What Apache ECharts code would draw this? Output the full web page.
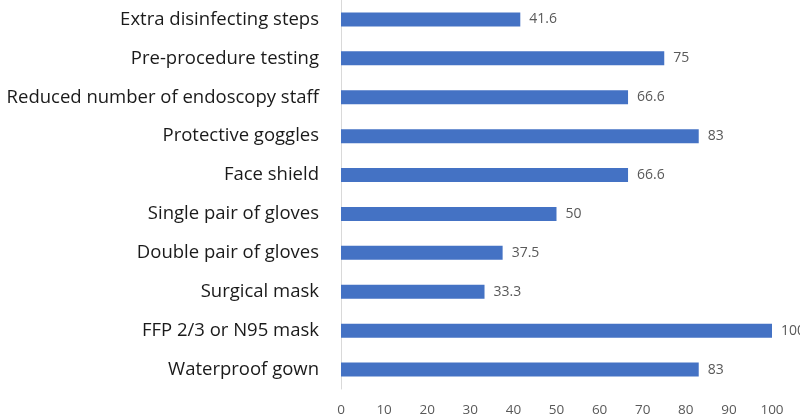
<!DOCTYPE html>
<html>
<head>
<meta charset="utf-8">
<script src="https://cdn.jsdelivr.net/npm/echarts@6/dist/echarts.min.js"></script>
<style>
  html, body { margin: 0; padding: 0; background: #fff; }
  #chart { width: 800px; height: 417px; }
</style>
</head>
<body>
<div id="chart"></div>
<script>
const categories = [
  "Waterproof gown",
  "FFP 2/3 or N95 mask",
  "Surgical mask",
  "Double pair of gloves",
  "Single pair of gloves",
  "Face shield",
  "Protective goggles",
  "Reduced number of endoscopy staff",
  "Pre-procedure testing",
  "Extra disinfecting steps",
];
const values = [83, 100, 33.3, 37.5, 50, 66.6, 83, 66.6, 75, 41.6];

const chart = echarts.init(document.getElementById("chart"));
chart.setOption({
  animation: false,
  grid: { left: 341, right: 28, top: 0, bottom: 26, containLabel: false },
  xAxis: {
    type: "value",
    min: 0,
    max: 100,
    interval: 10,
    axisLine: { show: false },
    axisTick: { show: false },
    splitLine: { show: false },
    axisLabel: { color: "#595959", fontSize: 13.5, fontFamily: "Open Sans", margin: 14 },
  },
  yAxis: {
    type: "category",
    data: categories,
    axisTick: { show: false },
    axisLine: { show: true, lineStyle: { color: "#d9d9d9", width: 1 } },
    axisLabel: { color: "#1a1a1a", fontSize: 18.5, fontFamily: "Open Sans", margin: 22 },
  },
  series: [
    {
      type: "bar",
      data: values,
      barWidth: 14,
      itemStyle: { color: "#4472c4" },
      label: {
        show: true,
        position: "right",
        distance: 9,
        color: "#595959",
        fontSize: 14,
        fontFamily: "Open Sans",
      },
    },
  ],
});
</script>
</body>
</html>
